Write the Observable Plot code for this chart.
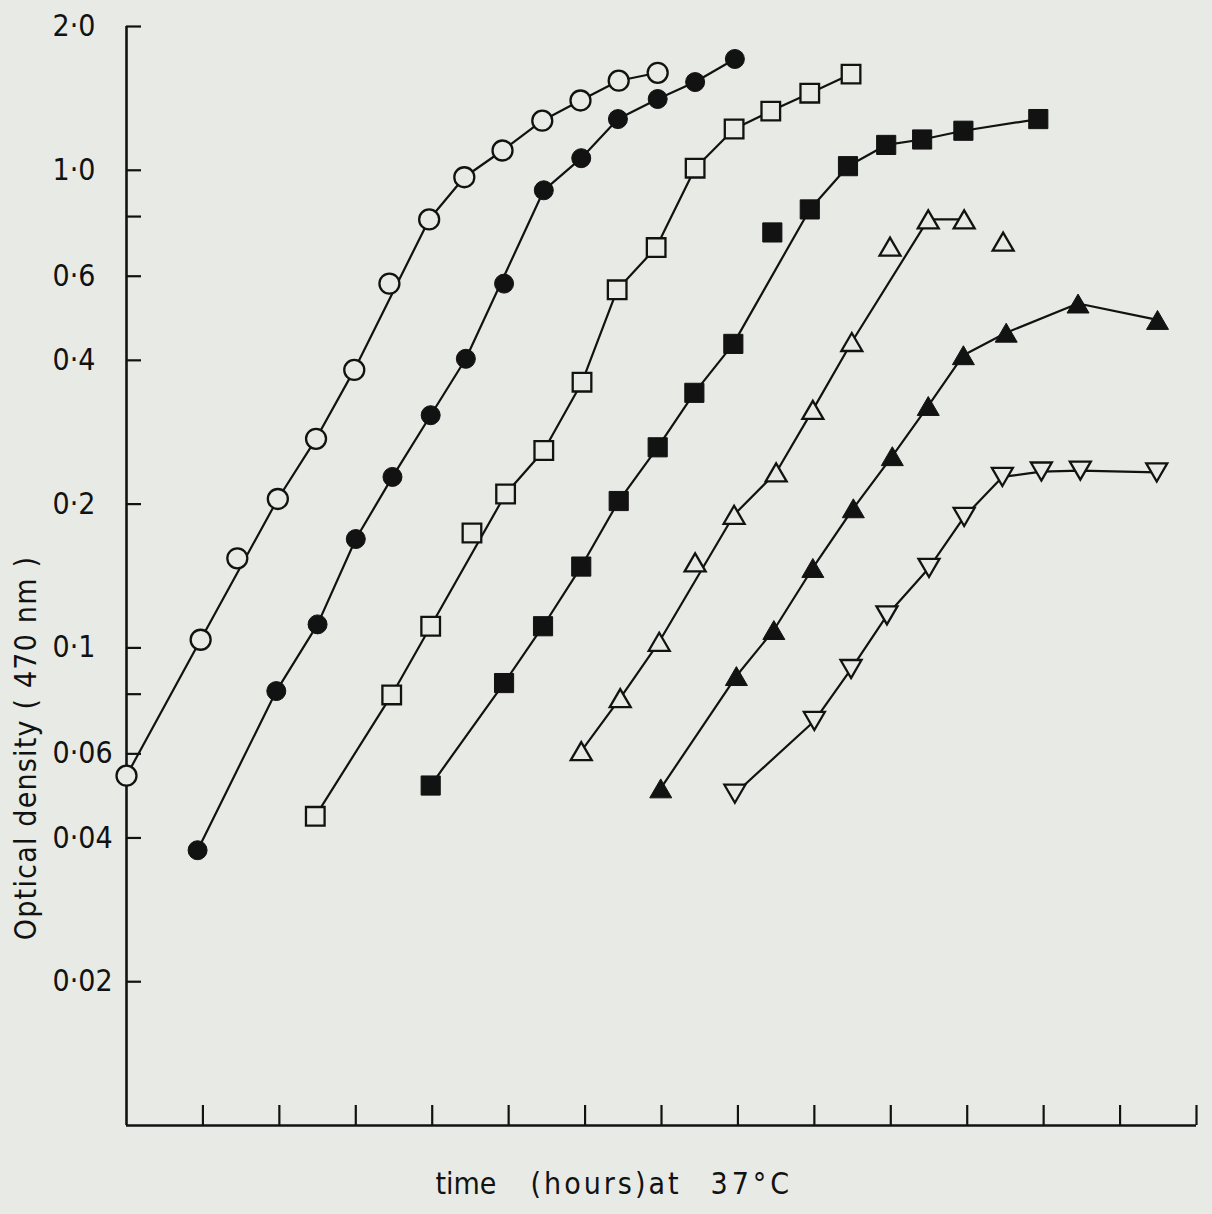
<!DOCTYPE html>
<html>
<head>
<meta charset="utf-8">
<script src="https://cdn.jsdelivr.net/npm/d3@7"></script>
<script src="https://cdn.jsdelivr.net/npm/@observablehq/plot@0.6"></script>
<style>
  html, body { margin: 0; padding: 0; background: #e8ebe5; }
  #chart { width: 1212px; height: 1214px; }
</style>
</head>
<body>
<div id="chart"></div>
<script>
// ---- data (time in hours, optical density at 470 nm) ----
const openCircleT = [0, 0.97, 1.45, 1.98, 2.48, 2.98, 3.44, 3.96, 4.42, 4.92, 5.44, 5.94, 6.44, 6.95];
const openCircleOD = [0.054, 0.104, 0.154, 0.205, 0.274, 0.382, 0.579, 0.789, 0.967, 1.10, 1.27, 1.40, 1.54, 1.60];

const filledCircleT = [0.93, 1.96, 2.50, 3.00, 3.48, 3.98, 4.44, 4.94, 5.46, 5.95, 6.43, 6.95, 7.44, 7.96];
const filledCircleOD = [0.0377, 0.0812, 0.112, 0.169, 0.228, 0.307, 0.403, 0.579, 0.908, 1.06, 1.28, 1.41, 1.53, 1.71];

const openSquareT = [2.47, 3.47, 3.98, 4.52, 4.96, 5.46, 5.96, 6.42, 6.93, 7.44, 7.95, 8.43, 8.94, 9.48];
const openSquareOD = [0.0444, 0.0797, 0.111, 0.174, 0.210, 0.259, 0.360, 0.562, 0.689, 1.01, 1.22, 1.33, 1.45, 1.59];

const filledSquareT = [3.98, 4.94, 5.45, 5.95, 6.44, 6.95, 7.43, 7.94, 8.45, 8.94, 9.44, 9.94, 10.41, 10.95, 11.93];
const filledSquareOD = [0.0515, 0.0844, 0.111, 0.148, 0.203, 0.263, 0.342, 0.433, 0.741, 0.828, 1.02, 1.13, 1.16, 1.21, 1.28];

const openTriangleT = [5.95, 6.46, 6.97, 7.44, 7.95, 8.50, 8.98, 9.49, 9.99, 10.49, 10.96, 11.47];
const openTriangleOD = [0.0608, 0.0785, 0.103, 0.151, 0.190, 0.233, 0.315, 0.437, 0.692, 0.789, 0.789, 0.709];

const filledTriangleT = [6.99, 7.98, 8.47, 8.98, 9.51, 10.02, 10.49, 10.95, 11.51, 12.45, 13.49];
const filledTriangleOD = [0.0508, 0.0873, 0.109, 0.147, 0.196, 0.252, 0.321, 0.410, 0.457, 0.526, 0.486];

const openDownT = [7.96, 9.00, 9.48, 9.95, 10.50, 10.96, 11.46, 11.97, 12.48, 13.48];
const openDownOD = [0.0495, 0.0703, 0.0903, 0.117, 0.147, 0.188, 0.228, 0.234, 0.235, 0.233];

// points that the hand-drawn curve does not pass through: [series, time]
const offCurve = [
  ["openCircle", 1.45], ["openCircle", 3.44],
  ["filledCircle", 4.94],
  ["openSquare", 4.52],
  ["filledSquare", 8.45],
  ["openTriangle", 7.44], ["openTriangle", 9.99], ["openTriangle", 11.47]
];

const xTickValues = [1, 2, 3, 4, 5, 6, 7, 8, 9, 10, 11, 12, 13, 14];
const yTickValues = [2, 1, 0.8, 0.6, 0.4, 0.2, 0.1, 0.08, 0.06, 0.04, 0.02];
const yLabelValues = [2, 1, 0.6, 0.4, 0.2, 0.1, 0.06, 0.04, 0.02];
const yLabelText = ["2·0", "1·0", "0·6", "0·4", "0·2", "0·1", "0·06", "0·04", "0·02"];

const xTitleParts = ["time", "(hours)at", "37°C"];
const yTitle = "Optical density ( 470 nm )";

// ---- build table ----
const seriesList = [
  ["openCircle", openCircleT, openCircleOD],
  ["filledCircle", filledCircleT, filledCircleOD],
  ["openSquare", openSquareT, openSquareOD],
  ["filledSquare", filledSquareT, filledSquareOD],
  ["openTriangle", openTriangleT, openTriangleOD],
  ["filledTriangle", filledTriangleT, filledTriangleOD],
  ["openDown", openDownT, openDownOD]
];
const rows = [];
for (const [name, ts, ods] of seriesList) {
  ts.forEach((t, i) => {
    const off = offCurve.some(([s, tt]) => s === name && tt === t);
    rows.push({series: name, t, od: ods[i], onCurve: !off});
  });
}

// ---- styling ----
const BG = "#e8ebe5";
const INK = "#121212";
const triUp = {draw(ctx, size) {
  const r = Math.sqrt(size / Math.PI), h = r * 1.72;
  ctx.moveTo(0, -h / 2); ctx.lineTo(r, h / 2); ctx.lineTo(-r, h / 2); ctx.closePath();
}};
const triDown = {draw(ctx, size) {
  const r = Math.sqrt(size / Math.PI), h = r * 1.72;
  ctx.moveTo(0, h / 2); ctx.lineTo(r, -h / 2); ctx.lineTo(-r, -h / 2); ctx.closePath();
}};
const markerStyle = {
  openCircle: {symbol: "circle", r: 10, filled: false},
  filledCircle: {symbol: "circle", r: 9.5, filled: true},
  openSquare: {symbol: "square", r: 10.5, filled: false},
  filledSquare: {symbol: "square", r: 10.8, filled: true},
  openTriangle: {symbol: triUp, r: 10.5, filled: false},
  filledTriangle: {symbol: triUp, r: 11, filled: true},
  openDown: {symbol: triDown, r: 10.5, filled: false}
};

const W = 1212, H = 1214;
const mL = 126, mR = 16, mT = 26, mB = 89;
const frameW = W - mL - mR, frameH = H - mT - mB;
const FONT = "'DejaVu Sans Condensed', 'DejaVu Sans', sans-serif";

const dotMarks = seriesList.map(([name]) => {
  const s = markerStyle[name];
  return Plot.dot(rows.filter(d => d.series === name), {
    x: "t", y: "od", symbol: s.symbol, r: s.r,
    fill: s.filled ? INK : BG, stroke: INK, strokeWidth: s.filled ? 1 : 2.3
  });
});

// x-title pieces: left edge offset from the frame's left
const xTitleDx = [309, 404, 584];
const xTitleMarks = xTitleParts.map((p, i) => Plot.text([p], {
  text: d => d, frameAnchor: "bottom-left", textAnchor: "start", lineAnchor: "middle",
  dx: xTitleDx[i], dy: 59, fontSize: 30, fill: INK
}));

const chart = Plot.plot({
  width: W, height: H,
  marginLeft: mL, marginRight: mR, marginTop: mT, marginBottom: mB,
  style: {background: BG, fontFamily: FONT, fontSize: "28px", color: INK},
  x: {domain: [0, 14], axis: null},
  y: {type: "log", domain: [0.01, 2], axis: null},
  marks: [
    // axes
    Plot.ruleX([0], {stroke: INK, strokeWidth: 2.6}),
    Plot.ruleY([0.01], {stroke: INK, strokeWidth: 2.6}),
    Plot.ruleX(xTickValues, {stroke: INK, strokeWidth: 2.2, insetTop: frameH - 20}),
    Plot.ruleY(yTickValues, {stroke: INK, strokeWidth: 2.2, insetRight: frameW - 15}),
    Plot.text(yLabelValues, {
      y: d => d, text: (d, i) => yLabelText[i], frameAnchor: "left",
      textAnchor: "start", dx: -74, fontSize: 30, fill: INK
    }),
    // titles
    ...xTitleMarks,
    Plot.text([yTitle], {
      text: d => d, frameAnchor: "left", rotate: -90, textAnchor: "middle",
      lineAnchor: "middle", dx: -100, dy: 172, fontSize: 30, fill: INK
    }),
    // curves
    Plot.line(rows.filter(d => d.onCurve), {x: "t", y: "od", z: "series", stroke: INK, strokeWidth: 2.2}),
    ...dotMarks
  ]
});
document.getElementById("chart").appendChild(chart);

// letter spacing of the drafting-stencil lettering
const spacing = {"(hours)at": "3px", "37°C": "4px"};
spacing[yTitle] = "1.2px";
chart.querySelectorAll("text").forEach(t => {
  const ls = spacing[t.textContent];
  if (ls) t.style.letterSpacing = ls;
});
</script>
</body>
</html>
